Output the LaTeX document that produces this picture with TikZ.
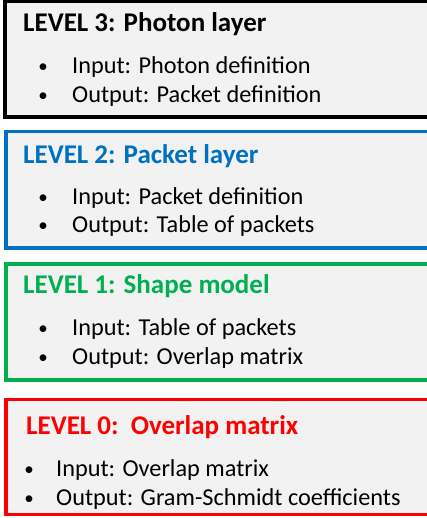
\documentclass[tikz,border=0pt]{standalone}
\usepackage{fontspec}
\setmainfont{Carlito}
\usepackage{xcolor}
\usepackage{tikz}
\definecolor{boxbg}{HTML}{F2F2F2}
\definecolor{lvthree}{HTML}{000000}
\definecolor{lvtwo}{HTML}{0070C0}
\definecolor{lvone}{HTML}{00B050}
\definecolor{lvzero}{HTML}{FF0000}
\tikzset{
  levelbox/.style={line width=3.5pt,fill=boxbg},
  leveltitle/.style={anchor=base west,inner sep=0pt,font=\bfseries\fontsize{27}{27}\selectfont},
  itemtext/.style={anchor=base west,inner sep=0pt,font=\fontsize{24.3}{24.3}\selectfont},
  itemdot/.style={anchor=base,inner sep=0pt,font=\fontsize{19}{19}\selectfont}
}

\begin{document}
\begin{tikzpicture}[x=1pt,y=-1pt]
\clip (0,0) rectangle (427,518);
% level 3
\draw[levelbox,draw=lvthree] (5,1.5) rectangle (440,117);
\node[leveltitle,lvthree] (t3) at (23,32) {LEVEL 3: Photon layer};
\node[itemdot] (d3a) at (43,73) {•};
\node[itemtext] (i3a) at (72,74) {Input: Photon definition};
\node[itemdot] (d3b) at (43,102) {•};
\node[itemtext] (i3b) at (72,103) {Output: Packet definition};
% level 2
\draw[levelbox,draw=lvtwo] (6,131.5) rectangle (440,248);
\node[leveltitle,lvtwo] (t2) at (23,164) {LEVEL 2: Packet layer};
\node[itemdot] (d2a) at (43,204) {•};
\node[itemtext] (i2a) at (72,205) {Input: Packet definition};
\node[itemdot] (d2b) at (43,232) {•};
\node[itemtext] (i2b) at (72,233) {Output: Table of packets};
% level 1
\draw[levelbox,draw=lvone] (6,264) rectangle (440,380);
\node[leveltitle,lvone] (t1) at (23,293) {LEVEL 1: Shape model};
\node[itemdot] (d1a) at (43,334) {•};
\node[itemtext] (i1a) at (72,335) {Input: Table of packets};
\node[itemdot] (d1b) at (43,363) {•};
\node[itemtext] (i1b) at (72,364) {Output: Overlap matrix};
% level 0
\draw[levelbox,draw=lvzero] (6,399.5) rectangle (440,514.5);
\node[leveltitle,lvzero] (t0) at (26,434) {LEVEL 0:\ \ Overlap matrix};
\node[itemdot] (d0a) at (29,475) {•};
\node[itemtext] (i0a) at (56,476) {Input: Overlap matrix};
\node[itemdot] (d0b) at (29,504) {•};
\node[itemtext] (i0b) at (56,505) {Output: Gram-Schmidt coefficients};
\end{tikzpicture}
\end{document}
